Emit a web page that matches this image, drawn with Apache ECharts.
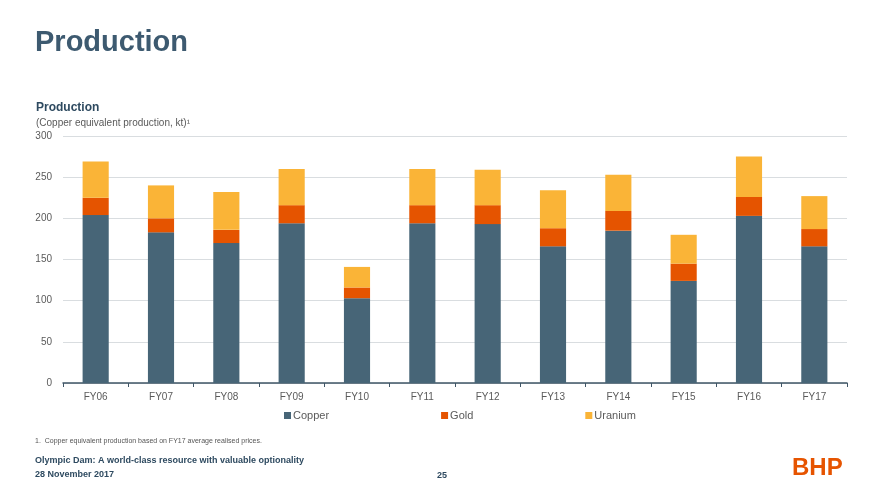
<!DOCTYPE html>
<html><head><meta charset="utf-8">
<script src="https://cdn.jsdelivr.net/npm/echarts@6/dist/echarts.min.js"></script>
<style>html,body{margin:0;padding:0;background:#fff;}#c{width:880px;height:495px;}</style>
</head><body><div id="c"></div>
<script>
const categories = ['FY06','FY07','FY08','FY09','FY10','FY11','FY12','FY13','FY14','FY15','FY16','FY17'];
const copper  = [204, 183, 170, 194, 103, 194, 193, 166, 185, 124, 203, 166];
const gold    = [21, 17, 16, 22, 13, 22, 23, 22, 24, 21, 23, 21];
const uranium = [44, 40, 46, 44, 25, 44, 43, 46, 44, 35, 49, 40];
const yTicks = {min: 0, max: 300, interval: 50};

const chart = echarts.init(document.getElementById('c'), null, {renderer: 'canvas'});
const font = 'Arial, "Liberation Sans", sans-serif';
function t(text, left, top, size, weight, color) {
  return {text: text, left: left, top: top, padding: 0,
    textStyle: {fontFamily: font, fontSize: size, fontWeight: weight, color: color}};
}
chart.setOption({
  animation: false,
  textStyle: {fontFamily: font},
  title: [
    t('Production', 35, 28, 29, 'bold', '#3d5a70'),
    t('Production', 36, 102, 12, 'bold', '#2e4a60'),
    t('(Copper equivalent production, kt)¹', 36, 118, 10, 'normal', '#5a5a5a'),
    t('1.  Copper equivalent production based on FY17 average realised prices.', 35, 438, 7, 'normal', '#555'),
    t('Olympic Dam: A world-class resource with valuable optionality', 35, 456, 9, 'bold', '#2e4a60'),
    t('28 November 2017', 35, 470, 9, 'bold', '#2e4a60'),
    t('25', 437, 471, 9, 'bold', '#2e4a60'),
    t('BHP', 792, 456, 24, 'bold', '#e65400')
  ],
  legend: {
    data: ['Copper','Gold','Uranium'],
    left: 284, top: 410, padding: 0,
    itemWidth: 7, itemHeight: 7, itemGap: 112,
    icon: 'rect',
    textStyle: {fontFamily: font, fontSize: 11, color: '#5a5a5a', padding: [0,0,0,-3]}
  },
  grid: {left: 63, right: 33, top: 136, bottom: 112, containLabel: false},
  xAxis: {
    type: 'category', data: categories,
    axisLine: {lineStyle: {color: '#3f5566', width: 1.5}},
    axisTick: {show: true, alignWithLabel: false, length: 4, lineStyle: {color: '#3f5566'}},
    axisLabel: {color: '#5a5a5a', fontSize: 10, margin: 9}
  },
  yAxis: {
    type: 'value', min: yTicks.min, max: yTicks.max, interval: yTicks.interval,
    axisLine: {show: false}, axisTick: {show: false},
    splitLine: {lineStyle: {color: '#d9dde0', width: 1}},
    axisLabel: {color: '#5a5a5a', fontSize: 10, margin: 11}
  },
  series: [
    {name: 'Copper', type: 'bar', stack: 't', data: copper, barCategoryGap: '60%', itemStyle: {color: '#476577'}},
    {name: 'Gold', type: 'bar', stack: 't', data: gold, itemStyle: {color: '#e55400'}},
    {name: 'Uranium', type: 'bar', stack: 't', data: uranium, itemStyle: {color: '#fab437'}}
  ]
});
</script></body></html>
